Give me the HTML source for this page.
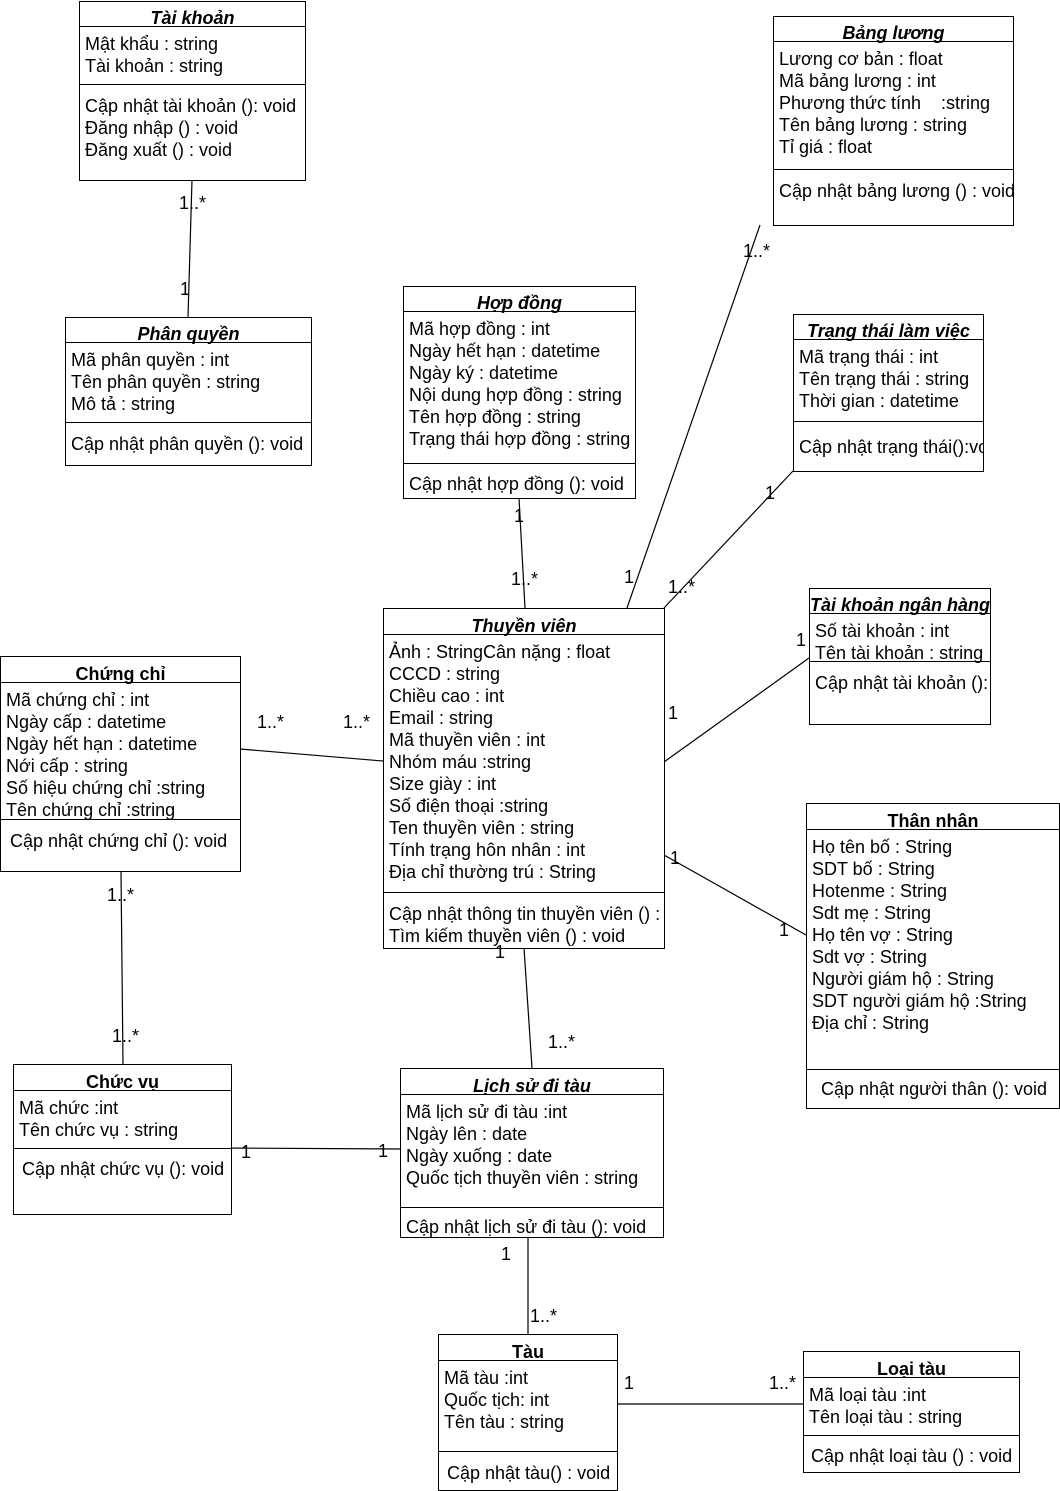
<!DOCTYPE html>
<html><head><meta charset="utf-8"><style>
body{margin:0;width:1060px;height:1491px;background:#fff;position:relative;overflow:hidden;font-family:"Liberation Sans","DejaVu Sans",sans-serif;font-size:18px;color:#000}
.b{position:absolute;border:1px solid #000;background:#fff;overflow:hidden;box-sizing:border-box}
.t{position:absolute;left:0;right:0;text-align:center;font-weight:bold;font-style:italic;line-height:22px;white-space:nowrap;font-size:18px}
.n{font-style:normal}
.h{position:absolute;left:0;right:0;border-top:1px solid #000}
.a{position:absolute;left:5px;line-height:22px;white-space:pre;margin-top:0px}
.l{position:absolute;line-height:18px;font-size:18px;white-space:nowrap;margin-top:0px}
svg{position:absolute;left:0;top:0}
</style></head><body>
<svg width="1060" height="1491"><g stroke="#000" stroke-width="1.2" fill="none">
<line x1="192" y1="180" x2="188" y2="317"/>
<line x1="760" y1="225" x2="627" y2="608"/>
<line x1="519" y1="498" x2="525" y2="608"/>
<line x1="793" y1="471" x2="664" y2="608"/>
<line x1="809" y1="658" x2="664" y2="762"/>
<line x1="240" y1="749" x2="383" y2="761"/>
<line x1="664" y1="855" x2="806" y2="935"/>
<line x1="121" y1="871" x2="123" y2="1064"/>
<line x1="524" y1="948" x2="532" y2="1068"/>
<line x1="221" y1="1148" x2="400" y2="1149"/>
<line x1="528" y1="1237" x2="528" y2="1334"/>
<line x1="617" y1="1404" x2="803" y2="1404"/>
</g></svg>

<div class="b" style="left:79px;top:1px;width:227px;height:180px">
<div class="t" style="top:5px">Tài khoản</div><div class="h" style="top:24px"></div>
<div class="a" style="top:31px">Mật khẩu : string
Tài khoản : string</div><div class="h" style="top:82px"></div>
<div class="a" style="top:93px">Cập nhật tài khoản (): void
Đăng nhập () : void
Đăng xuất () : void</div></div>

<div class="b" style="left:773px;top:16px;width:241px;height:210px">
<div class="t" style="top:5px">Bảng lương</div><div class="h" style="top:24px"></div>
<div class="a" style="top:31px">Lương cơ bản : float
Mã bảng lương : int
Phương thức tính    :string
Tên bảng lương : string
Tỉ giá : float</div><div class="h" style="top:152px"></div>
<div class="a" style="top:163px">Cập nhật bảng lương () : void</div></div>

<div class="b" style="left:65px;top:317px;width:247px;height:149px">
<div class="t" style="top:5px">Phân quyền</div><div class="h" style="top:24px"></div>
<div class="a" style="top:31px">Mã phân quyền : int
Tên phân quyền : string
Mô tả : string</div><div class="h" style="top:104px"></div>
<div class="a" style="top:115px">Cập nhật phân quyền (): void</div></div>

<div class="b" style="left:403px;top:286px;width:233px;height:213px">
<div class="t" style="top:5px">Hợp đồng</div><div class="h" style="top:24px"></div>
<div class="a" style="top:31px">Mã hợp đồng : int
Ngày hết hạn : datetime
Ngày ký : datetime
Nội dung hợp đồng : string
Tên hợp đồng : string
Trạng thái hợp đồng : string</div><div class="h" style="top:176px"></div>
<div class="a" style="top:186px">Cập nhật hợp đồng (): void</div></div>

<div class="b" style="left:793px;top:314px;width:191px;height:158px">
<div class="t" style="top:5px">Trạng thái làm việc</div><div class="h" style="top:24px"></div>
<div class="a" style="top:31px">Mã trạng thái : int
Tên trạng thái : string
Thời gian : datetime</div><div class="h" style="top:106px"></div>
<div class="a" style="top:121px">Cập nhật trạng thái():void</div></div>

<div class="b" style="left:809px;top:588px;width:182px;height:137px">
<div class="t" style="top:5px">Tài khoản ngân hàng</div><div class="h" style="top:24px"></div>
<div class="a" style="top:31px">Số tài khoản : int
Tên tài khoản : string</div><div class="h" style="top:72px"></div>
<div class="a" style="top:83px">Cập nhật tài khoản (): void</div></div>

<div class="b" style="left:383px;top:608px;width:282px;height:341px">
<div class="t" style="top:6px">Thuyền viên</div><div class="h" style="top:25px"></div>
<div class="a" style="top:32px">Ảnh : StringCân nặng : float
CCCD : string
Chiều cao : int
Email : string
Mã thuyền viên : int
Nhóm máu :string
Size giày : int
Số điện thoại :string
Ten thuyền viên : string
Tính trạng hôn nhân : int
Địa chỉ thường trú : String</div><div class="h" style="top:283px"></div>
<div class="a" style="top:294px">Cập nhật thông tin thuyền viên () : void
Tìm kiếm thuyền viên () : void</div></div>

<div class="b" style="left:0px;top:656px;width:241px;height:216px">
<div class="t n" style="top:6px">Chứng chỉ</div><div class="h" style="top:25px"></div>
<div class="a" style="top:32px">Mã chứng chỉ : int
Ngày cấp : datetime
Ngày hết hạn : datetime
Nới cấp : string
Số hiệu chứng chỉ :string
Tên chứng chỉ :string</div><div class="h" style="top:162px"></div>
<div class="a" style="top:173px;left:9px">Cập nhật chứng chỉ (): void</div></div>

<div class="b" style="left:806px;top:803px;width:254px;height:306px">
<div class="t n" style="top:6px">Thân nhân</div><div class="h" style="top:25px"></div>
<div class="a" style="top:32px">Họ tên bố : String
SDT bố : String
Hotenme : String
Sdt mẹ : String
Họ tên vợ : String
Sdt vợ : String
Người giám hộ : String
SDT người giám hộ :String
Địa chỉ : String</div><div class="h" style="top:265px"></div>
<div class="a" style="top:274px;left:14px">Cập nhật người thân (): void</div></div>

<div class="b" style="left:13px;top:1064px;width:219px;height:151px">
<div class="t n" style="top:6px">Chức vụ</div><div class="h" style="top:25px"></div>
<div class="a" style="top:32px">Mã chức :int
Tên chức vụ : string</div><div class="h" style="top:83px"></div>
<div class="a" style="top:93px;left:8px">Cập nhật chức vụ (): void</div></div>

<div class="b" style="left:400px;top:1068px;width:264px;height:170px">
<div class="t" style="top:6px">Lịch sử đi tàu</div><div class="h" style="top:25px"></div>
<div class="a" style="top:32px">Mã lịch sử đi tàu :int
Ngày lên : date
Ngày xuống : date
Quốc tịch thuyền viên : string</div><div class="h" style="top:138px"></div>
<div class="a" style="top:147px">Cập nhật lịch sử đi tàu (): void</div></div>

<div class="b" style="left:438px;top:1334px;width:180px;height:157px">
<div class="t n" style="top:6px">Tàu</div><div class="h" style="top:25px"></div>
<div class="a" style="top:32px">Mã tàu :int
Quốc tịch: int
Tên tàu : string</div><div class="h" style="top:116px"></div>
<div class="a" style="top:127px;left:8px">Cập nhật tàu() : void</div></div>

<div class="b" style="left:803px;top:1351px;width:217px;height:122px">
<div class="t n" style="top:6px">Loại tàu</div><div class="h" style="top:25px"></div>
<div class="a" style="top:32px">Mã loại tàu :int
Tên loại tàu : string</div><div class="h" style="top:83px"></div>
<div class="a" style="top:93px;left:7px">Cập nhật loại tàu () : void</div></div>

<div class="l" style="left:179px;top:194px">1..*</div>
<div class="l" style="left:180px;top:280px">1</div>
<div class="l" style="left:743px;top:242px">1..*</div>
<div class="l" style="left:624px;top:568px">1</div>
<div class="l" style="left:514px;top:507px">1</div>
<div class="l" style="left:511px;top:570px">1..*</div>
<div class="l" style="left:765px;top:484px">1</div>
<div class="l" style="left:668px;top:578px">1..*</div>
<div class="l" style="left:796px;top:631px">1</div>
<div class="l" style="left:668px;top:704px">1</div>
<div class="l" style="left:257px;top:713px">1..*</div>
<div class="l" style="left:343px;top:713px">1..*</div>
<div class="l" style="left:670px;top:849px">1</div>
<div class="l" style="left:779px;top:921px">1</div>
<div class="l" style="left:107px;top:886px">1..*</div>
<div class="l" style="left:112px;top:1027px">1..*</div>
<div class="l" style="left:495px;top:943px">1</div>
<div class="l" style="left:548px;top:1033px">1..*</div>
<div class="l" style="left:241px;top:1143px">1</div>
<div class="l" style="left:378px;top:1142px">1</div>
<div class="l" style="left:501px;top:1245px">1</div>
<div class="l" style="left:530px;top:1307px">1..*</div>
<div class="l" style="left:624px;top:1374px">1</div>
<div class="l" style="left:769px;top:1374px">1..*</div>
</body></html>
